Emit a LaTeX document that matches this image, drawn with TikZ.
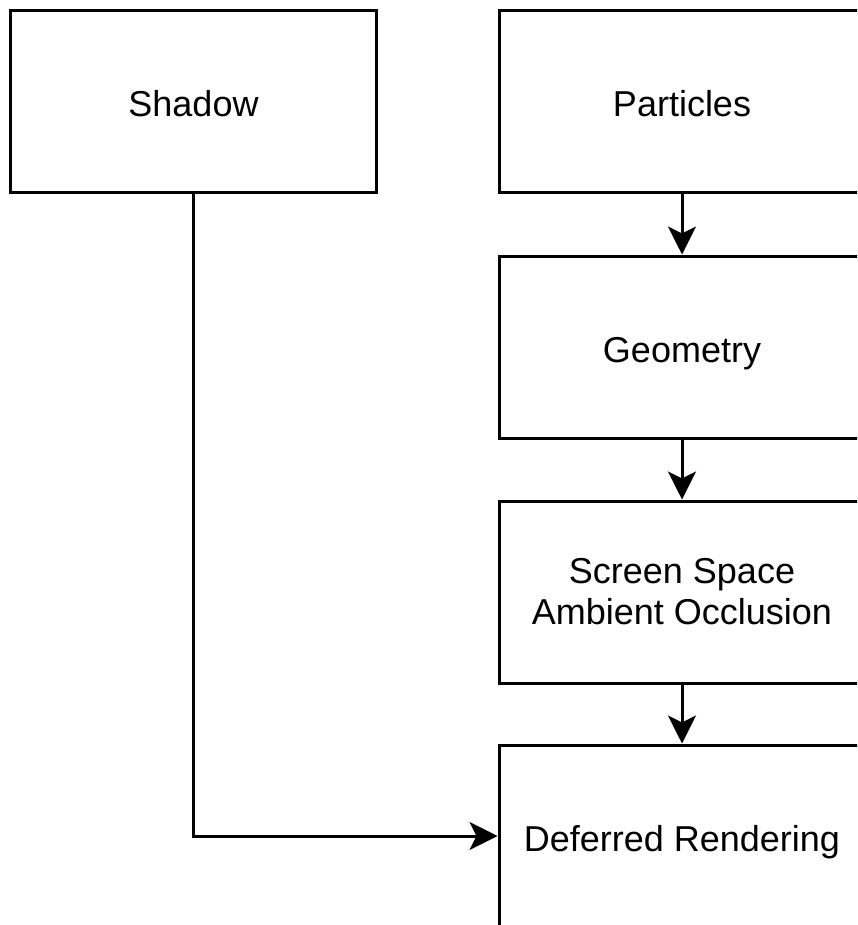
\documentclass[tikz,border=0pt]{standalone}
\usepackage{fontspec}
\setmainfont{Liberation Sans}
\usetikzlibrary{arrows.meta}

\begin{document}
\begin{tikzpicture}[
		x=1pt, y=-1pt,
		pass/.style={rectangle, draw=black, line width=3pt, fill=white, minimum width=366pt, minimum height=182pt, align=center, font=\fontsize{36}{41}\selectfont},
		oneline/.style={pass, text height=34pt, text depth=4pt},
		link/.style={-{Stealth[length=28pt, width=28pt, inset=7pt]}, line width=3pt}
		]
		
		\clip (0,0) rectangle (857,925);
		
		\node[oneline] (shadow) at (193.5,102) {Shadow};
		\node[oneline] (particles) at (682,102) {Particles};
		\node[oneline] (geometry) at (682,347) {Geometry};
		\node[pass] (ssao) at (682,592) {Screen Space\\Ambient Occlusion};
		\node[oneline] (deferred) at (682,836) {Deferred Rendering};
		
		\draw[link] (particles) -- (geometry);
		\draw[link] (geometry) -- (ssao);
		\draw[link] (ssao) -- (deferred);
		\draw[link] (shadow.south) |- (deferred.west);
		
	\end{tikzpicture}
\end{document}
